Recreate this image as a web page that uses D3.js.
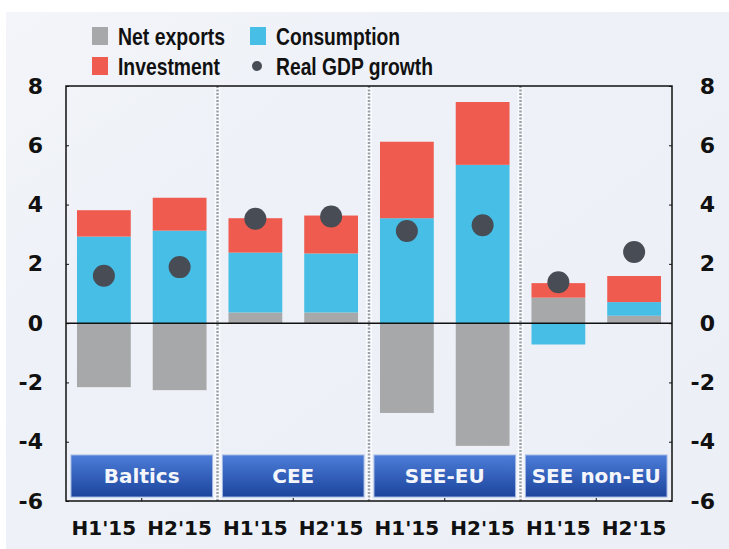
<!DOCTYPE html>
<html><head><meta charset="utf-8">
<script src="https://cdn.jsdelivr.net/npm/d3@7"></script>
<style>html,body{margin:0;padding:0;background:#fff;}svg{display:block;}</style>
</head><body>
<svg id="c" width="729" height="549"></svg>
<script>
const categories = ["H1'15","H2'15","H1'15","H2'15","H1'15","H2'15","H1'15","H2'15"];
const groups = ["Baltics","CEE","SEE-EU","SEE non-EU"];
const netExports  = [-2.16,-2.26,0.36,0.36,-3.03,-4.14,0.86,0.25];
const consumption = [2.92,3.12,2.02,1.99,3.54,5.34,-0.72,0.46];
const investment  = [0.89,1.11,1.16,1.28,2.58,2.12,0.49,0.88];
const gdpGrowth   = [1.6,1.89,3.52,3.6,3.11,3.3,1.38,2.4];
const yTicks = [-6,-4,-2,0,2,4,6,8];

const colors = {nx:"#a6a8a9", cons:"#46bee6", inv:"#ef5b4f", dot:"#474c55"};
const svg = d3.select("#c");
const L=66, R=672, T=86, B=501;

const defs = svg.append("defs");
const bg = defs.append("linearGradient").attr("id","bg").attr("x1","0").attr("y1","0").attr("x2","1").attr("y2","1");
bg.append("stop").attr("offset","0").attr("stop-color","#f3f5fa");
bg.append("stop").attr("offset","0.3").attr("stop-color","#eef1f7");
bg.append("stop").attr("offset","1").attr("stop-color","#eceff6");
const bl = defs.append("linearGradient").attr("id","boxg").attr("x1","0").attr("y1","0").attr("x2","0").attr("y2","1");
bl.append("stop").attr("offset","0").attr("stop-color","#4c7dd8");
bl.append("stop").attr("offset","1").attr("stop-color","#1c449c");

svg.append("rect").attr("x",6).attr("y",12).attr("width",723).attr("height",537).attr("fill","url(#bg)");

const data = categories.map((c,i)=>({idx:i, nx:netExports[i], cons:consumption[i], inv:investment[i], gdp:gdpGrowth[i]}));
const x = d3.scaleBand().domain(d3.range(categories.length)).range([L,R]).paddingInner(0.29).paddingOuter(0.145);
const y = d3.scaleLinear().domain([-6,8]).range([B,T]);
const gx = d3.scaleBand().domain(groups).range([L,R]);

// dividers
const divs = groups.slice(1).map(g=>gx(g));
svg.selectAll(".dvw").data(divs).join("line").attr("x1",d=>d).attr("x2",d=>d).attr("y1",T).attr("y2",B)
  .attr("stroke","#f8fafd").attr("stroke-width",6);
svg.selectAll(".dv").data(divs).join("line").attr("x1",d=>d).attr("x2",d=>d).attr("y1",T).attr("y2",B)
  .attr("stroke","#9ca1a9").attr("stroke-width",2.5).attr("stroke-dasharray","2,1.5");

// group boxes
const gb = svg.selectAll(".gb").data(groups).join("g");
gb.append("rect").attr("x",d=>gx(d)+5).attr("width",gx.bandwidth()-10).attr("y",B-46).attr("height",42)
  .attr("fill","url(#boxg)").attr("stroke","#9fb6e2").attr("stroke-width",1);
gb.append("text").attr("x",d=>gx(d)+gx.bandwidth()/2).attr("y",B-25).attr("text-anchor","middle")
  .attr("dominant-baseline","central").attr("fill","#f4f6fb").attr("font-family","DejaVu Sans").attr("font-weight","bold")
  .attr("font-size",20).text(d=>d);

// stacked bars
const keys=["nx","cons","inv"];
const series = d3.stack().keys(keys).offset(d3.stackOffsetDiverging)(data);
svg.append("g").selectAll("g").data(series).join("g").attr("fill",s=>colors[s.key])
  .selectAll("rect").data(s=>s).join("rect")
  .attr("x",(d,i)=>x(i)).attr("width",x.bandwidth())
  .attr("y",d=>y(Math.max(d[0],d[1]))).attr("height",d=>Math.abs(y(d[0])-y(d[1])));

// zero line
svg.append("line").attr("x1",L).attr("x2",R).attr("y1",y(0)).attr("y2",y(0)).attr("stroke","#111").attr("stroke-width",1.5);

// dots
svg.append("g").selectAll("circle").data(data).join("circle")
  .attr("cx",d=>x(d.idx)+x.bandwidth()/2).attr("cy",d=>y(d.gdp)).attr("r",11).attr("fill",colors.dot);

// frame
svg.append("rect").attr("x",L).attr("y",T).attr("width",R-L).attr("height",B-T).attr("fill","none").attr("stroke","#111").attr("stroke-width",1.5);

// axes
const axL = svg.append("g").attr("transform",`translate(${L},0)`).call(d3.axisRight(y).tickValues(yTicks).tickSize(3).tickFormat(""));
const axR = svg.append("g").attr("transform",`translate(${R},0)`).call(d3.axisLeft(y).tickValues(yTicks).tickSize(3).tickFormat(""));
[axL,axR].forEach(a=>{a.select(".domain").remove(); a.selectAll("line").attr("stroke","#111");});
svg.selectAll(".yl").data(yTicks).join("text").attr("x",43).attr("y",d=>y(d)).attr("text-anchor","end")
  .attr("dominant-baseline","central").attr("font-family","DejaVu Sans").attr("font-weight","bold").attr("font-size",22).attr("fill","#111").text(d=>d);
svg.selectAll(".yr").data(yTicks).join("text").attr("x",715).attr("y",d=>y(d)).attr("text-anchor","end")
  .attr("dominant-baseline","central").attr("font-family","DejaVu Sans").attr("font-weight","bold").attr("font-size",22).attr("fill","#111").text(d=>d);

// bottom group ticks
const axB = svg.append("g").attr("transform",`translate(0,${B})`).call(d3.axisTop(gx).tickSize(3).tickFormat(""));
axB.select(".domain").remove(); axB.selectAll("line").attr("stroke","#111");

// x labels
svg.selectAll(".xl").data(data).join("text").attr("x",d=>x(d.idx)+x.bandwidth()/2).attr("y",528).attr("text-anchor","middle")
  .attr("dominant-baseline","central").attr("font-family","DejaVu Sans").attr("font-weight","bold").attr("font-size",20).attr("fill","#111")
  .text(d=>categories[d.idx]);

// legend
const legend = [
  {label:"Net exports", type:"sq", c:colors.nx, x:92, y:36, w:107},
  {label:"Consumption", type:"sq", c:colors.cons, x:250, y:36, w:124},
  {label:"Investment", type:"sq", c:colors.inv, x:92, y:66, w:102},
  {label:"Real GDP growth", type:"dot", c:colors.dot, x:250, y:66, w:157}
];
const lg = svg.selectAll(".lg").data(legend).join("g");
lg.filter(d=>d.type==="sq").append("rect").attr("x",d=>d.x).attr("y",d=>d.y-9).attr("width",16).attr("height",18).attr("fill",d=>d.c);
lg.filter(d=>d.type==="dot").append("circle").attr("cx",d=>d.x+7).attr("cy",d=>d.y).attr("r",5).attr("fill",d=>d.c);
lg.append("text").attr("x",d=>d.x+26).attr("y",d=>d.y+9).attr("font-family","Liberation Sans, Arial").attr("font-weight","bold")
  .attr("font-size",24).attr("fill","#111").attr("textLength",d=>d.w).attr("lengthAdjust","spacingAndGlyphs").text(d=>d.label);
</script>
</body></html>
